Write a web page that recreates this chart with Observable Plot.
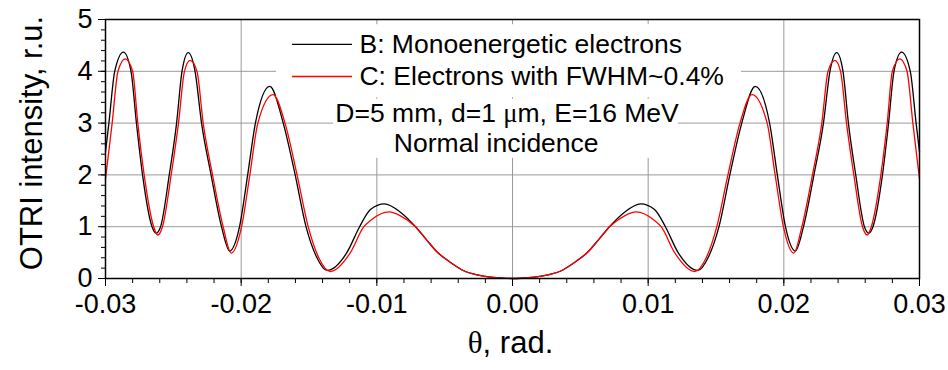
<!DOCTYPE html>
<html>
<head>
<meta charset="utf-8">
<script src="https://cdn.jsdelivr.net/npm/d3@7"></script>
<script src="https://cdn.jsdelivr.net/npm/@observablehq/plot@0.6"></script>
<style>
  body { margin: 0; background: #fff; }
  #chart svg { display: block; }
</style>
</head>
<body>
<div id="chart"></div>
<script>
// ---- Data ----
// Curve B: monoenergetic electrons (black)
const theta_B = [
  -0.03000, -0.02975, -0.02932, -0.02868, -0.02812, -0.02772, -0.02727, -0.02657, -0.02627,
  -0.02594, -0.02530, -0.02476, -0.02436, -0.02390, -0.02340, -0.02292, -0.02222, -0.02145,
  -0.02085, -0.02012, -0.01952, -0.01895, -0.01789, -0.01690, -0.01602, -0.01522, -0.01445,
  -0.01366, -0.01221, -0.01127, -0.01047, -0.00945, -0.00826, -0.00715, -0.00641, -0.00555,
  -0.00457, -0.00359, -0.00260, -0.00162, -0.00064, 0,
  0.00064, 0.00162, 0.00260, 0.00359, 0.00457, 0.00555, 0.00641, 0.00715, 0.00826,
  0.00945, 0.01047, 0.01127, 0.01221, 0.01366, 0.01445, 0.01522, 0.01602, 0.01690,
  0.01789, 0.01895, 0.01952, 0.02012, 0.02085, 0.02145, 0.02222, 0.02292, 0.02340,
  0.02390, 0.02436, 0.02476, 0.02530, 0.02594, 0.02627, 0.02657, 0.02727, 0.02772,
  0.02812, 0.02868, 0.02932, 0.02975, 0.03000
];
const otri_B = [
  2.45, 3.00, 4.00, 4.37, 4.00, 3.00, 2.00, 1.00, 0.875,
  1.00, 2.00, 3.00, 4.00, 4.36, 4.00, 3.00, 2.00, 1.00,
  0.53, 1.00, 2.00, 3.00, 3.71, 3.00, 2.00, 1.00, 0.42,
  0.155, 0.50, 1.00, 1.33, 1.44, 1.28, 1.00, 0.77, 0.51,
  0.31, 0.15, 0.07, 0.025, 0.005, 0,
  0.005, 0.025, 0.07, 0.15, 0.31, 0.51, 0.77, 1.00, 1.28,
  1.44, 1.33, 1.00, 0.50, 0.155, 0.42, 1.00, 2.00, 3.00,
  3.71, 3.00, 2.00, 1.00, 0.53, 1.00, 2.00, 3.00, 4.00,
  4.36, 4.00, 3.00, 2.00, 1.00, 0.875, 1.00, 2.00, 3.00,
  4.00, 4.37, 4.00, 3.00, 2.45
];
// Curve C: electrons with FWHM~0.4% (red)
const theta_C = [
  -0.03000, -0.02951, -0.02908, -0.02855, -0.02800, -0.02762, -0.02715, -0.02645, -0.02615,
  -0.02580, -0.02516, -0.02462, -0.02418, -0.02376, -0.02326, -0.02280, -0.02211, -0.02133,
  -0.02073, -0.01997, -0.01936, -0.01877, -0.01765, -0.01677, -0.01588, -0.01506, -0.01428,
  -0.01343, -0.01195, -0.01096, -0.01047, -0.00909, -0.00826, -0.00715, -0.00641, -0.00555,
  -0.00457, -0.00359, -0.00260, -0.00162, -0.00064, 0,
  0.00064, 0.00162, 0.00260, 0.00359, 0.00457, 0.00555, 0.00641, 0.00715, 0.00826,
  0.00909, 0.01047, 0.01096, 0.01195, 0.01343, 0.01428, 0.01506, 0.01588, 0.01677,
  0.01765, 0.01877, 0.01936, 0.01997, 0.02073, 0.02133, 0.02211, 0.02280, 0.02326,
  0.02376, 0.02418, 0.02462, 0.02516, 0.02580, 0.02615, 0.02645, 0.02715, 0.02762,
  0.02800, 0.02855, 0.02908, 0.02951, 0.03000
];
const otri_C = [
  1.92, 3.00, 4.00, 4.24, 4.00, 3.00, 2.00, 1.00, 0.84,
  1.00, 2.00, 3.00, 4.00, 4.21, 4.00, 3.00, 2.00, 1.00,
  0.49, 1.00, 2.00, 3.00, 3.55, 3.00, 2.00, 1.00, 0.40,
  0.135, 0.50, 1.00, 1.12, 1.285, 1.21, 1.00, 0.77, 0.51,
  0.31, 0.15, 0.07, 0.025, 0.005, 0,
  0.005, 0.025, 0.07, 0.15, 0.31, 0.51, 0.77, 1.00, 1.21,
  1.285, 1.12, 1.00, 0.50, 0.135, 0.40, 1.00, 2.00, 3.00,
  3.55, 3.00, 2.00, 1.00, 0.49, 1.00, 2.00, 3.00, 4.00,
  4.21, 4.00, 3.00, 2.00, 1.00, 0.84, 1.00, 2.00, 3.00,
  4.00, 4.24, 4.00, 3.00, 1.92
];
const seriesNames = ["B: Monoenergetic electrons", "C: Electrons with FWHM~0.4%"];
const seriesColors = ["#000000", "#ff0000"];
const annotationLines = ["D=5 mm, d=1 μm, E=16 MeV", "Normal incidence"];
const xTicks = [-0.03, -0.02, -0.01, 0, 0.01, 0.02, 0.03];
const xTickLabels = ["-0.03", "-0.02", "-0.01", "0.00", "0.01", "0.02", "0.03"];
const yTicks = [0, 1, 2, 3, 4, 5];
const yTickLabels = ["0", "1", "2", "3", "4", "5"];
const xTitle = "θ, rad.";
const yTitle = "OTRI intensity, r.u.";

// ---- Build tables ----
const dataB = theta_B.map((t, i) => ({theta: t, v: otri_B[i]}));
const dataC = theta_C.map((t, i) => ({theta: t, v: otri_C[i]}));
const xMinor = d3.range(-15, 16).map(i => i * 0.002);
const yMinor = d3.range(0, 26).map(i => i * 0.2);

// annotation placement (data coordinates)
const legendBox = [{x1: -0.0174, x2: 0.01688, y1: 3.49, y2: 4.90}, {x1: -0.01319, x2: 0.01224, y1: 2.32, y2: 3.46}];
const legendRows = [
  {x1: -0.01622, x2: -0.01179, y: 4.52, tx: -0.01128, label: seriesNames[0], color: seriesColors[0]},
  {x1: -0.01622, x2: -0.01179, y: 3.90, tx: -0.01128, label: seriesNames[1], color: seriesColors[1]}
];
const annoRows = [
  {x: -0.0004, y: 3.19, label: annotationLines[0]},
  {x: -0.0012, y: 2.60, label: annotationLines[1]}
];

const gridColor = "#9a9a9a";
const chart = Plot.plot({
  width: 948,
  height: 370,
  marginLeft: 105,
  marginRight: 29,
  marginTop: 19,
  marginBottom: 92,
  style: {fontFamily: "'Liberation Sans', Arial, sans-serif", background: "#fff", color: "#000"},
  x: {domain: [-0.03, 0.03]},
  y: {domain: [0, 5]},
  marks: [
    Plot.gridX(xTicks, {stroke: gridColor, strokeOpacity: 1, strokeWidth: 1}),
    Plot.gridY(yTicks, {stroke: gridColor, strokeOpacity: 1, strokeWidth: 1}),
    Plot.line(dataB, {x: "theta", y: "v", stroke: seriesColors[0], strokeWidth: 1.3, curve: "monotone-x"}),
    Plot.rect(legendBox, {x1: "x1", x2: "x2", y1: "y1", y2: "y2", fill: "white"}),
    Plot.line(dataC, {x: "theta", y: "v", stroke: seriesColors[1], strokeWidth: 1.3, curve: "monotone-x"}),
    Plot.ruleY(legendRows, {y: "y", x1: "x1", x2: "x2", stroke: "color", strokeWidth: 1.3}),
    Plot.text(legendRows, {x: "tx", y: "y", text: "label", textAnchor: "start", fontSize: 26.5, fill: "black"}),
    Plot.text(annoRows, {x: "x", y: "y", text: "label", textAnchor: "middle", fontSize: 26.5, fill: "black"}),
    Plot.frame({stroke: "black", strokeWidth: 1.5}),
    Plot.axisX(xMinor, {tickSize: 5, text: null, label: null, stroke: "black"}),
    Plot.axisX(xTicks, {tickSize: 8, tickPadding: 7, fontSize: 27, label: null,
      tickFormat: d => xTickLabels[xTicks.indexOf(d)], stroke: "black"}),
    Plot.axisY(yMinor, {tickSize: 4, text: null, label: null, stroke: "black"}),
    Plot.axisY(yTicks, {tickSize: 7, tickPadding: 6, fontSize: 27, label: null,
      tickFormat: d => yTickLabels[yTicks.indexOf(d)], stroke: "black"}),
    Plot.text([xTitle], {text: d => d, frameAnchor: "bottom", textAnchor: "middle", dy: 74, dx: -2, fontSize: 31, fill: "black"}),
    Plot.text([yTitle], {text: d => d, frameAnchor: "left", textAnchor: "middle", rotate: -90, dx: -73, dy: -6, fontSize: 31, fill: "black"})
  ]
});

// Greek letters in a serif face, as in the reference
const NS = "http://www.w3.org/2000/svg";
chart.querySelectorAll("text").forEach(t => {
  if (t.children.length) return;
  const s = t.textContent;
  if (!/[θμ]/.test(s)) return;
  t.textContent = "";
  s.split(/([θμ])/).forEach(part => {
    if (!part) return;
    const ts = document.createElementNS(NS, "tspan");
    ts.textContent = part;
    if (part === "θ" || part === "μ") ts.setAttribute("font-family", "'Liberation Serif', 'DejaVu Serif', serif");
    t.appendChild(ts);
  });
});

document.getElementById("chart").appendChild(chart);
</script>
</body>
</html>
